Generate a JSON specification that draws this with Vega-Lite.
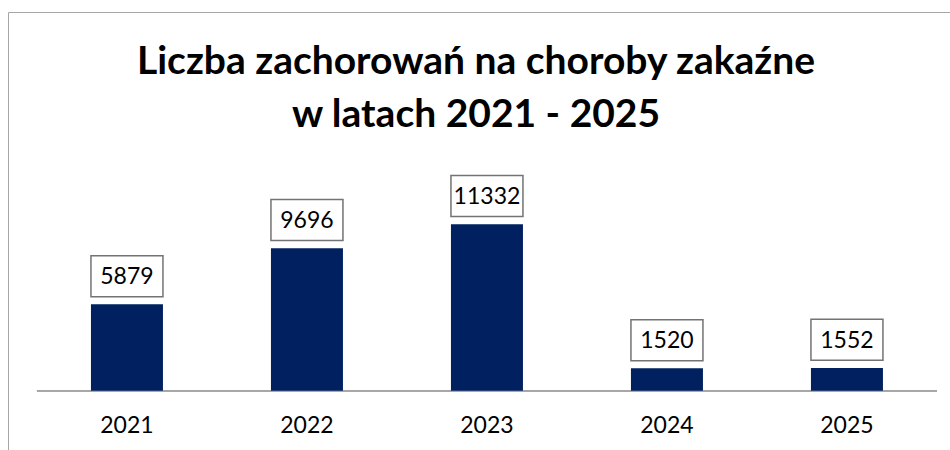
{
  "$schema": "https://vega.github.io/schema/vega-lite/v6.json",
  "width": 942,
  "height": 438,
  "autosize": {"type": "none"},
  "padding": {"left": 8, "top": 12, "right": 0, "bottom": 0},
  "background": "white",
  "config": {"view": {"stroke": null}, "font": "Lato"},
  "title": {
    "text": ["Liczba zachorowań na choroby zakaźne", "w latach 2021 - 2025"],
    "font": "Lato",
    "fontSize": 39,
    "fontWeight": "bold",
    "color": "black",
    "lineHeight": 53,
    "anchor": "middle",
    "frame": "group",
    "orient": "top",
    "offset": -123,
    "dx": -3
  },
  "data": {
    "values": [
      {"year": "2021", "value": 5879},
      {"year": "2022", "value": 9696},
      {"year": "2023", "value": 11332},
      {"year": "2024", "value": 1520},
      {"year": "2025", "value": 1552}
    ]
  },
  "encoding": {
    "x": {
      "field": "year",
      "type": "nominal",
      "sort": null,
      "scale": {"domain": ["2021", "2022", "2023", "2024", "2025"], "paddingInner": 0.6, "paddingOuter": 0.4167, "align": 0.553},
      "axis": {
        "orient": "bottom",
        "offset": -59.3,
        "domain": false,
        "ticks": false,
        "tickSize": 0,
        "labelPadding": 24,
        "labelFont": "Lato",
        "labelFontSize": 23,
        "labelColor": "black",
        "labelAngle": 0,
        "title": null
      }
    }
  },
  "layer": [
    {
      "mark": {"type": "rule", "color": "#a6a6a6", "strokeWidth": 1.5},
      "encoding": {
        "x": {"datum": "2021", "bandPosition": -0.75},
        "x2": {"datum": "2025", "bandPosition": 1.75},
        "y": {"datum": 0, "type": "quantitative"}
      }
    },
    {
      "mark": {"type": "bar", "color": "#002060"},
      "encoding": {
        "y": {
          "field": "value",
          "type": "quantitative",
          "scale": {"domain": [-4035, 25767], "nice": false, "zero": false},
          "axis": {
            "orient": "left",
            "domain": true,
            "domainColor": "#a6a6a6",
            "domainWidth": 1,
            "ticks": false,
            "labels": false,
            "grid": true,
            "values": [25767],
            "gridColor": "#a6a6a6",
            "gridOpacity": 1,
            "gridWidth": 1,
            "title": null
          }
        },
        "y2": {"datum": 0}
      }
    },
    {
      "mark": {"type": "rect", "fill": "white", "stroke": "#737373", "strokeWidth": 1.5, "yOffset": -48.6, "y2Offset": -7.6},
      "encoding": {
        "y": {"field": "value", "type": "quantitative"},
        "y2": {"field": "value"}
      }
    },
    {
      "mark": {"type": "text", "baseline": "middle", "align": "center", "dy": -27, "font": "Lato", "fontSize": 23, "color": "black"},
      "encoding": {
        "y": {"field": "value", "type": "quantitative"},
        "text": {"field": "value", "type": "quantitative", "format": "d"}
      }
    }
  ]
}
